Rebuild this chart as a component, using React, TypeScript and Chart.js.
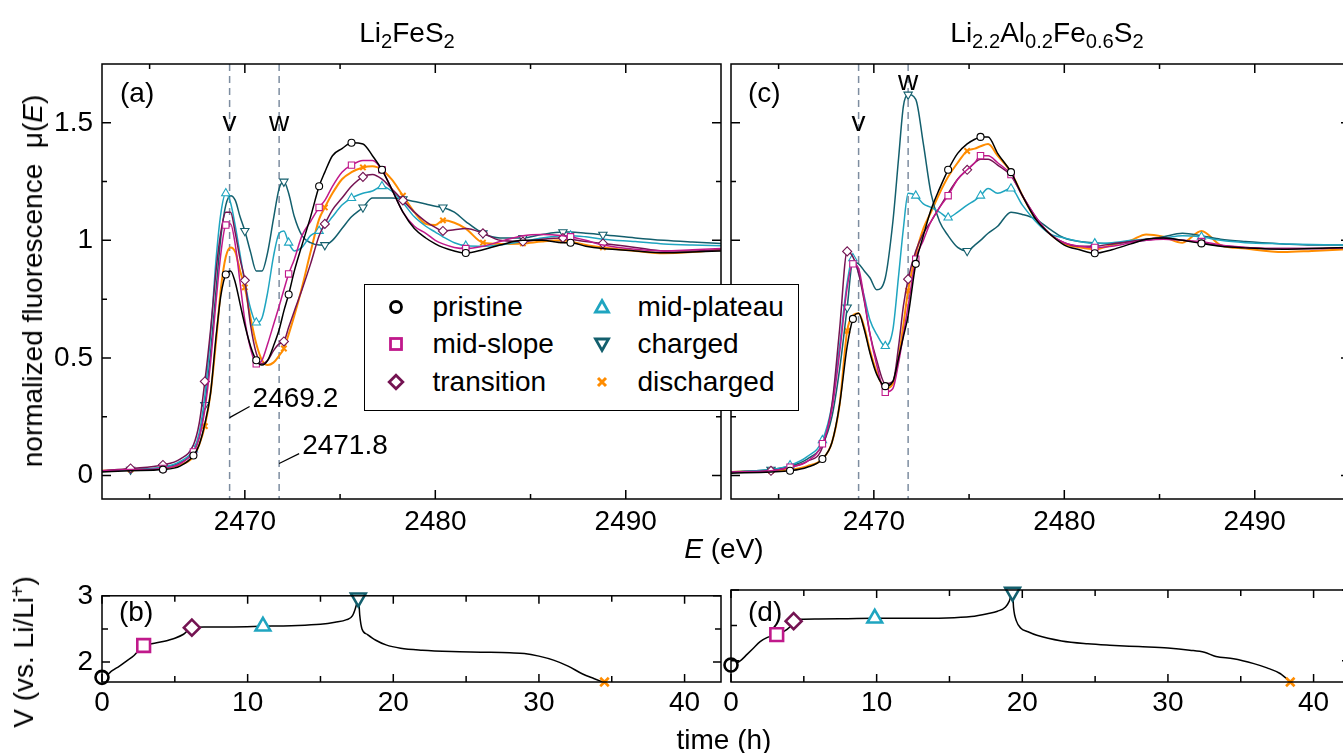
import React, { useEffect, useRef } from 'react';
import { Chart, registerables } from 'chart.js';
Chart.register(...registerables);

const FONT = '"Liberation Sans", Arial, Helvetica, sans-serif';
const FS = 28;

// ---------- Spectra, Li2FeS2 (panel a) ----------
const E_A = [2462.5, 2464.0, 2465.7, 2466.6, 2467.3, 2467.6, 2467.9, 2468.2, 2468.5, 2468.75,
  2469.0, 2469.25, 2469.5, 2469.75, 2470.0, 2470.3, 2470.6, 2470.9, 2471.2, 2471.5,
  2471.8, 2472.05, 2472.3, 2472.6, 2473.0, 2473.45, 2473.9, 2474.2, 2474.6, 2475.1,
  2475.6, 2476.2, 2476.7, 2477.2, 2477.7, 2478.3, 2478.9, 2479.5, 2480.0, 2480.4,
  2481.0, 2481.6, 2482.5, 2483.4, 2484.6, 2485.6, 2486.7, 2487.1, 2487.9, 2488.8,
  2490.5, 2492.0, 2493.5, 2495.0];
const PRISTINE_A = [0.015, 0.02, 0.025, 0.04, 0.085, 0.13, 0.22, 0.35, 0.6, 0.77,
  0.855, 0.87, 0.82, 0.73, 0.64, 0.55, 0.49, 0.47, 0.49, 0.55,
  0.62, 0.7, 0.77, 0.87, 0.98, 1.1, 1.23, 1.29, 1.36, 1.39,
  1.415, 1.41, 1.36, 1.3, 1.22, 1.12, 1.05, 1.01, 0.985, 0.97,
  0.955, 0.946, 0.96, 0.98, 1.0, 1.0, 0.99, 0.99, 0.975, 0.965,
  0.955, 0.947, 0.95, 0.955];
const MIDSLOPE_A = [0.02, 0.025, 0.03, 0.05, 0.1, 0.16, 0.28, 0.48, 0.75, 0.95,
  1.065, 1.07, 0.98, 0.82, 0.66, 0.54, 0.475, 0.49, 0.56, 0.64,
  0.72, 0.79, 0.857, 0.92, 1.02, 1.08, 1.14, 1.17, 1.23, 1.29,
  1.32, 1.34, 1.34, 1.3, 1.22, 1.12, 1.06, 1.03, 1.0, 0.985,
  0.97, 0.965, 0.975, 0.995, 1.02, 1.025, 1.02, 1.015, 1.0, 0.98,
  0.962, 0.955, 0.96, 0.965];
const TRANSITION_A = [0.02, 0.03, 0.045, 0.07, 0.13, 0.22, 0.4, 0.62, 0.88, 1.04,
  1.12, 1.12, 1.03, 0.92, 0.83, 0.64, 0.52, 0.475, 0.49, 0.53,
  0.56, 0.57, 0.63, 0.7, 0.79, 0.9, 1.02, 1.07, 1.13, 1.18,
  1.23, 1.27, 1.28, 1.26, 1.22, 1.17, 1.12, 1.08, 1.055, 1.04,
  1.045, 1.05, 1.03, 1.0, 0.995, 1.005, 1.01, 1.005, 0.995, 0.987,
  0.97, 0.955, 0.955, 0.96];
const MIDPLATEAU_A = [0.02, 0.025, 0.035, 0.06, 0.11, 0.18, 0.34, 0.6, 0.93, 1.12,
  1.2, 1.16, 1.06, 0.94, 0.82, 0.71, 0.65, 0.67, 0.78, 0.93,
  1.03, 1.04, 0.99, 0.955, 0.97, 1.02, 1.04, 1.06, 1.1, 1.15,
  1.18, 1.2, 1.21, 1.23, 1.21, 1.16, 1.1, 1.06, 1.035, 1.015,
  0.99, 0.977, 0.975, 0.98, 0.995, 1.01, 1.02, 1.02, 1.015, 1.005,
  0.995, 0.985, 0.98, 0.977];
const CHARGED_A = [0.02, 0.025, 0.035, 0.055, 0.1, 0.16, 0.3, 0.52, 0.8, 1.02,
  1.15, 1.19, 1.17, 1.1, 1.04, 0.95, 0.87, 0.87, 0.95, 1.09,
  1.22, 1.25, 1.2, 1.1, 1.02, 0.99, 0.98, 0.98, 1.0, 1.05,
  1.1, 1.14, 1.18, 1.18, 1.18, 1.175, 1.165, 1.155, 1.145, 1.14,
  1.12, 1.08, 1.03, 1.01, 1.01, 1.025, 1.035, 1.035, 1.03, 1.024,
  1.01, 1.0, 0.993, 0.987];
const DISCHARGED_A = [0.02, 0.025, 0.03, 0.045, 0.08, 0.13, 0.21, 0.35, 0.58, 0.8,
  0.93, 0.97, 0.95, 0.87, 0.8, 0.67, 0.56, 0.49, 0.47, 0.48,
  0.51, 0.54, 0.6, 0.68, 0.8, 0.95, 1.09, 1.14, 1.2, 1.26,
  1.29, 1.31, 1.315, 1.3, 1.26, 1.19, 1.12, 1.07, 1.065, 1.085,
  1.075, 1.05, 0.99, 0.985, 0.987, 0.995, 1.0, 0.995, 0.98, 0.97,
  0.955, 0.945, 0.95, 0.96];
// sample indices carrying a marker
const MARK_FIRST_A = [2, 4, 10, 16, 22, 26, 30, 33, 41, 47];
const MARK_SECOND_A = [1, 2, 6, 14, 21, 27, 31, 35, 39, 42, 44, 46, 49];

// ---------- Spectra, Li2.2Al0.2Fe0.6S2 (panel c) ----------
const E_C = [2462.5, 2464.6, 2465.6, 2466.5, 2467.3, 2467.8, 2468.2, 2468.6, 2468.9, 2469.2,
  2469.5, 2469.8, 2470.15, 2470.6, 2471.0, 2471.3, 2471.55, 2471.8, 2472.2, 2472.6,
  2473.0, 2473.45, 2473.9, 2474.4, 2474.9, 2475.3, 2475.6, 2476.0, 2476.5, 2477.2,
  2477.8, 2478.5, 2479.2, 2480.0, 2480.8, 2481.6, 2482.5, 2483.5, 2484.3, 2485.2,
  2486.2, 2487.2, 2488.2, 2489.5, 2491.5, 2493.0, 2495.0];
const PRISTINE_C = [0.01, 0.015, 0.02, 0.035, 0.07, 0.14, 0.3, 0.55, 0.666, 0.69,
  0.62, 0.52, 0.43, 0.38, 0.4, 0.5, 0.59, 0.68, 0.9, 1.02,
  1.13, 1.22, 1.3, 1.37, 1.41, 1.43, 1.44, 1.44, 1.37, 1.29,
  1.19, 1.09, 1.03, 0.98, 0.96, 0.945, 0.96, 0.985, 1.005, 1.01,
  1.0, 0.987, 0.975, 0.968, 0.962, 0.965, 0.97];
const MIDSLOPE_C = [0.015, 0.02, 0.035, 0.06, 0.135, 0.28, 0.52, 0.8, 0.9, 0.88,
  0.75, 0.6, 0.47, 0.354, 0.37, 0.48, 0.6, 0.72, 0.92, 1.0,
  1.08, 1.14, 1.19, 1.26, 1.3, 1.33, 1.36, 1.36, 1.33, 1.28,
  1.19, 1.1, 1.03, 0.99, 0.975, 0.97, 0.975, 0.99, 1.0, 1.005,
  1.0, 0.995, 0.98, 0.97, 0.965, 0.965, 0.97];
const TRANSITION_C = [0.015, 0.02, 0.035, 0.06, 0.12, 0.3, 0.62, 0.953, 0.93, 0.86,
  0.74, 0.6, 0.49, 0.39, 0.4, 0.55, 0.72, 0.835, 0.955, 1.03,
  1.08, 1.14, 1.2, 1.26, 1.3, 1.33, 1.345, 1.345, 1.32, 1.275,
  1.19, 1.1, 1.03, 0.99, 0.975, 0.975, 0.985, 0.995, 1.005, 1.01,
  1.0, 0.99, 0.978, 0.97, 0.965, 0.965, 0.97];
const MIDPLATEAU_C = [0.015, 0.025, 0.043, 0.08, 0.15, 0.3, 0.55, 0.82, 0.924, 0.86,
  0.76, 0.66, 0.6, 0.55, 0.62, 0.85, 1.05, 1.2, 1.19, 1.155,
  1.14, 1.12, 1.097, 1.12, 1.15, 1.17, 1.19, 1.22, 1.2, 1.22,
  1.15, 1.08, 1.03, 1.01, 0.995, 0.987, 0.99, 1.0, 1.005, 1.01,
  1.02, 1.015, 1.0, 0.99, 0.985, 0.982, 0.98];
const CHARGED_C = [0.015, 0.025, 0.04, 0.07, 0.13, 0.25, 0.45, 0.715, 0.91, 0.9,
  0.87, 0.84, 0.79, 0.84, 1.08, 1.35, 1.57, 1.62, 1.6, 1.41,
  1.2, 1.08, 1.02, 0.97, 0.955, 0.98, 1.0, 1.03, 1.06, 1.12,
  1.11, 1.09, 1.05, 1.01, 0.995, 0.99, 0.985, 0.995, 1.0, 1.015,
  1.03, 1.02, 1.005, 0.995, 0.985, 0.98, 0.98];
const DISCHARGED_C = [0.015, 0.02, 0.025, 0.04, 0.07, 0.14, 0.3, 0.615, 0.68, 0.69,
  0.63, 0.53, 0.44, 0.37, 0.39, 0.5, 0.64, 0.786, 0.94, 1.05,
  1.12, 1.2, 1.27, 1.33, 1.38, 1.39, 1.4, 1.41, 1.36, 1.29,
  1.19, 1.09, 1.03, 0.985, 0.97, 0.962, 0.98, 1.0, 1.025, 1.015,
  0.99, 1.04, 0.98, 0.965, 0.95, 0.955, 0.963];
const MARK_FIRST_C = [2, 4, 8, 13, 18, 22, 26, 29, 35, 41];
const MARK_SECOND_C = [1, 7, 17, 24];

// ---------- Voltage curves (panels b, d) ----------
const T_B = [0, 0.3, 0.7, 1.2, 1.7, 2.2, 2.86, 3.5, 4.2, 5.0, 5.6, 6.17, 7.0, 9, 11.05, 13, 15, 16, 16.8, 17.2,
  17.45, 17.6, 17.7, 17.85, 18.2, 18.8, 19.5, 20.5, 22, 24, 26, 28, 29, 30, 31, 32, 33, 33.8, 34.5];
const V_B = [1.77, 1.8, 1.87, 1.94, 2.02, 2.1, 2.25, 2.28, 2.31, 2.36, 2.42, 2.52, 2.53, 2.53, 2.54, 2.55, 2.57, 2.6, 2.64, 2.7,
  2.85, 3.0, 2.7, 2.5, 2.42, 2.33, 2.26, 2.21, 2.18, 2.16, 2.15, 2.14, 2.13, 2.09, 2.03, 1.94, 1.82, 1.75, 1.69];
const STATE_T_B = [0, 2.86, 6.17, 11.05, 17.6, 34.5];
const STATE_V_B = [1.77, 2.25, 2.52, 2.54, 2.97, 1.7];

const T_D = [0, 0.3, 0.7, 1.1, 1.5, 2.0, 2.5, 3.14, 3.6, 4.0, 4.3, 4.8, 6, 8, 9.87, 12, 14.8, 16.5, 17.6, 18.3,
  18.85, 19.1, 19.33, 19.4, 19.6, 19.9, 20.4, 21, 22.7, 24.5, 26, 28, 30, 31.5, 32.5, 33.3, 34.5, 35.9, 36.8, 37.7, 38.4];
const V_D = [1.94, 1.96, 2.01, 2.09, 2.17, 2.27, 2.33, 2.37, 2.41, 2.47, 2.56, 2.585, 2.59, 2.595, 2.6, 2.6, 2.605, 2.625, 2.665, 2.7,
  2.76, 2.84, 2.97, 2.75, 2.56, 2.46, 2.41, 2.36, 2.28, 2.24, 2.22, 2.2, 2.18, 2.15, 2.12, 2.06, 2.03, 1.96, 1.9, 1.82, 1.7];
const STATE_T_D = [0, 3.14, 4.3, 9.87, 19.33, 38.4];
const STATE_V_D = [1.94, 2.37, 2.56, 2.6, 2.97, 1.7];

// ---------- Axes ----------
const E_RANGE = [2462.5, 2495];
const MU_RANGE = [-0.1, 1.75];
const T_RANGE = [0, 42.5];
const V_RANGE = [1.7, 3];
const E_TICKS = [2470, 2480, 2490];
const E_MINOR = [2465, 2475, 2485];
const MU_TICKS = [0, 0.5, 1, 1.5];
const MU_MINOR = [0.25, 0.75, 1.25];
const T_TICKS = [0, 10, 20, 30, 40];
const T_MINOR = [5, 15, 25, 35];
const V_TICKS = [2, 3];
const V_MINOR = [2.5];

// ---------- Annotations ----------
const PEAK_E = [2469.2, 2471.8];
const PEAK_NAMES = ['v', 'w'];
const PEAK_LABEL_MU_A = [1.466, 1.466];
const PEAK_LABEL_MU_C = [1.466, 1.64];
const ANNOT_TEXT = ['2469.2', '2471.8'];
const ANNOT_FROM_E = [2469.2, 2471.8];
const ANNOT_FROM_MU = [0.246, 0.051];
const ANNOT_TO_E = [2470.25, 2472.85];
const ANNOT_TO_MU = [0.293, 0.093];

const SERIES_NAMES = ['pristine', 'mid-slope', 'transition', 'mid-plateau', 'charged', 'discharged'];
const COLORS = ['#000000', '#c0198b', '#741352', '#1fa5c0', '#135f6d', '#ff8c00'];
const POINT_STYLES = ['circle', 'rect', 'rectRot', 'triangle', 'triangle', 'crossRot'];
const ROTATIONS = [0, 0, 0, 0, 180, 0];
const SMALL_R = [3.5, 4.5, 4.5, 4.8, 4.8, 3.8];
const BIG_R = [6.5, 9, 8, 8.5, 8.5, 6];
const MARKER_GROUP = [0, 0, 1, 0, 1, 1];

const canvasFont = `${FS}px ${FONT}`;

function framePlugin(xMinor: number[], yMinor: number[], major: number, minor: number) {
  return {
    id: 'frame',
    afterDatasetsDraw(chart: any) {
      const { ctx, chartArea: a } = chart;
      const xs = chart.scales.x, ys = chart.scales.y;
      ctx.save();
      ctx.strokeStyle = '#000';
      ctx.lineWidth = 1.5;
      ctx.beginPath();
      const dx = (v: number, len: number) => {
        const p = xs.getPixelForValue(v);
        ctx.moveTo(p, a.bottom); ctx.lineTo(p, a.bottom - len);
        ctx.moveTo(p, a.top); ctx.lineTo(p, a.top + len);
      };
      const dy = (v: number, len: number) => {
        const p = ys.getPixelForValue(v);
        ctx.moveTo(a.left, p); ctx.lineTo(a.left + len, p);
        ctx.moveTo(a.right, p); ctx.lineTo(a.right - len, p);
      };
      xs.ticks.forEach((t: any) => dx(t.value, major));
      xMinor.forEach((v) => dx(v, minor));
      ys.ticks.forEach((t: any) => dy(t.value, major));
      yMinor.forEach((v) => dy(v, minor));
      ctx.stroke();
      ctx.strokeRect(a.left, a.top, a.right - a.left, a.bottom - a.top);
      ctx.restore();
    },
  };
}

function peakPlugin(labelMu: number[], withAnnot: boolean) {
  return {
    id: 'peaks',
    beforeDatasetsDraw(chart: any) {
      const { ctx, chartArea: a } = chart;
      const xs = chart.scales.x;
      ctx.save();
      ctx.strokeStyle = '#7d8da0';
      ctx.lineWidth = 1.5;
      ctx.setLineDash([7, 5]);
      PEAK_E.forEach((e) => {
        const p = xs.getPixelForValue(e);
        ctx.beginPath(); ctx.moveTo(p, a.top); ctx.lineTo(p, a.bottom); ctx.stroke();
      });
      ctx.restore();
    },
    afterDatasetsDraw(chart: any) {
      const { ctx } = chart;
      const xs = chart.scales.x, ys = chart.scales.y;
      ctx.save();
      ctx.fillStyle = '#000';
      ctx.font = canvasFont;
      ctx.textAlign = 'center';
      ctx.textBaseline = 'alphabetic';
      PEAK_E.forEach((e, i) => {
        ctx.fillText(PEAK_NAMES[i], xs.getPixelForValue(e), ys.getPixelForValue(labelMu[i]));
      });
      if (withAnnot) {
        ctx.strokeStyle = '#000';
        ctx.lineWidth = 1.2;
        ctx.textAlign = 'left';
        ANNOT_TEXT.forEach((t, i) => {
          const x0 = xs.getPixelForValue(ANNOT_FROM_E[i]);
          const y0 = ys.getPixelForValue(ANNOT_FROM_MU[i]);
          const x1 = xs.getPixelForValue(ANNOT_TO_E[i]);
          const y1 = ys.getPixelForValue(ANNOT_TO_MU[i]);
          ctx.beginPath(); ctx.moveTo(x0, y0); ctx.lineTo(x1, y1); ctx.stroke();
          ctx.fillText(t, x1 + 3, y1);
        });
      }
      ctx.restore();
    },
  };
}

type Box = { w: number; h: number; plotLeft: number; plotRight: number; plotTop: number; plotBottom: number };

function axisOptions(box: Box, xr: number[], yr: number[], xt: number[], yt: number[], showY: boolean, xPad: number) {
  const tickFont = { family: FONT, size: FS };
  return {
    x: {
      type: 'linear', min: xr[0], max: xr[1],
      grid: { display: false, drawTicks: false, tickLength: 0 },
      border: { display: false },
      ticks: { font: tickFont, color: '#000', padding: xPad, maxRotation: 0, autoSkip: false, callback: (v: any) => String(v) },
      afterBuildTicks: (s: any) => { s.ticks = xt.map((v) => ({ value: v })); },
      afterFit: (s: any) => { s.height = box.h - box.plotBottom; },
    },
    y: {
      type: 'linear', min: yr[0], max: yr[1],
      grid: { display: false, drawTicks: false, tickLength: 0 },
      border: { display: false },
      ticks: { display: showY, font: tickFont, color: '#000', padding: 9, autoSkip: false, callback: (v: any) => String(v) },
      afterBuildTicks: (s: any) => { s.ticks = yt.map((v) => ({ value: v })); },
      afterFit: (s: any) => { s.width = box.plotLeft; },
    },
  };
}

function spectraChart(canvas: HTMLCanvasElement, box: Box, E: number[], series: number[][], marks: number[][], labelMu: number[], withAnnot: boolean, showY: boolean) {
  const datasets = series.map((vals, k) => {
    const idx = marks[MARKER_GROUP[k]];
    return {
      label: SERIES_NAMES[k],
      data: vals.map((v, i) => ({ x: E[i], y: v })),
      borderColor: COLORS[k],
      borderWidth: k === 5 ? 2 : 1.5,
      cubicInterpolationMode: 'monotone',
      pointStyle: POINT_STYLES[k],
      rotation: ROTATIONS[k],
      pointRadius: vals.map((_, i) => (idx.includes(i) ? SMALL_R[k] : 0)),
      pointBorderWidth: k === 5 ? 2 : 1.1,
      pointBorderColor: COLORS[k],
      pointBackgroundColor: '#ffffff',
      fill: false,
    };
  });
  return new Chart(canvas, {
    type: 'line',
    data: { datasets } as any,
    options: {
      animation: false, responsive: false, maintainAspectRatio: false, events: [],
      layout: { padding: { top: box.plotTop, right: box.w - box.plotRight, left: 0, bottom: 0 } },
      plugins: { legend: { display: false }, tooltip: { enabled: false } },
      scales: axisOptions(box, E_RANGE, MU_RANGE, E_TICKS, MU_TICKS, showY, 6) as any,
    },
    plugins: [peakPlugin(labelMu, withAnnot), framePlugin(E_MINOR, MU_MINOR, 9, 5)],
  });
}

function voltageChart(canvas: HTMLCanvasElement, box: Box, T: number[], V: number[], ST: number[], SV: number[], showY: boolean) {
  const datasets = [
    {
      data: ST.map((t, i) => ({ x: t, y: SV[i] })),
      showLine: false,
      pointStyle: POINT_STYLES,
      rotation: ROTATIONS,
      pointRadius: BIG_R,
      pointBorderWidth: 2.6,
      pointBorderColor: COLORS,
      pointBackgroundColor: '#ffffff',
      clip: 14,
    },
    {
      data: T.map((t, i) => ({ x: t, y: V[i] })),
      borderColor: '#000',
      borderWidth: 1.5,
      cubicInterpolationMode: 'monotone',
      pointRadius: 0,
      fill: false,
    },
  ];
  return new Chart(canvas, {
    type: 'line',
    data: { datasets } as any,
    options: {
      animation: false, responsive: false, maintainAspectRatio: false, events: [],
      layout: { padding: { top: box.plotTop, right: box.w - box.plotRight, left: 0, bottom: 0 } },
      plugins: { legend: { display: false }, tooltip: { enabled: false } },
      scales: axisOptions(box, T_RANGE, V_RANGE, T_TICKS, V_TICKS, showY, 4) as any,
    },
    plugins: [framePlugin(T_MINOR, V_MINOR, 8, 6)],
  });
}

const BOX_A: Box = { w: 735, h: 560, plotLeft: 102, plotRight: 721, plotTop: 64, plotBottom: 499 };
const BOX_C: Box = { w: 665, h: 560, plotLeft: 31, plotRight: 650, plotTop: 64, plotBottom: 499 };
const BOX_B: Box = { w: 735, h: 183, plotLeft: 102, plotRight: 721, plotTop: 20, plotBottom: 112 };
const BOX_D: Box = { w: 665, h: 183, plotLeft: 31, plotRight: 650, plotTop: 20, plotBottom: 112 };

function LegendMarker({ k }: { k: number }) {
  const c = COLORS[k];
  const sw = 2.8;
  let shape: any = null;
  if (k === 0) shape = <circle r={5.5} fill="#fff" stroke={c} strokeWidth={sw} />;
  if (k === 1) shape = <rect x={-5.5} y={-5.5} width={11} height={11} fill="#fff" stroke={c} strokeWidth={sw} />;
  if (k === 2) shape = <polygon points="0,-6.8 6.8,0 0,6.8 -6.8,0" fill="#fff" stroke={c} strokeWidth={sw} />;
  if (k === 3) shape = <polygon points="0,-6.5 6.5,5 -6.5,5" fill="#fff" stroke={c} strokeWidth={sw} />;
  if (k === 4) shape = <polygon points="0,6.5 6.5,-5 -6.5,-5" fill="#fff" stroke={c} strokeWidth={sw} />;
  if (k === 5) shape = <path d="M-4,-4L4,4M-4,4L4,-4" stroke={c} strokeWidth={3} />;
  return (
    <svg width={22} height={22} viewBox="-11 -11 22 22" style={{ position: 'absolute', left: -11, top: -11 }}>
      {shape}
    </svg>
  );
}

function Legend() {
  const rows = [0, 1, 2];
  const cols = [[0, 1, 2], [3, 4, 5]];
  const colMarkerX = [32, 238];
  const colTextX = [69, 274];
  return (
    <div style={{ position: 'absolute', left: 364, top: 284, width: 435, height: 127, boxSizing: 'border-box', border: '1.5px solid #000', background: '#fff' }}>
      {cols.map((col, ci) => col.map((k, ri) => (
        <React.Fragment key={k}>
          <div style={{ position: 'absolute', left: colMarkerX[ci] - 1.5, top: 23 + 37.5 * rows[ri] - 1.5, width: 0, height: 0 }}>
            <LegendMarker k={k} />
          </div>
          <div style={{ position: 'absolute', left: colTextX[ci] - 1.5, top: 23 + 37.5 * rows[ri] - 1.5, transform: 'translateY(-50%)', fontSize: FS, lineHeight: 1, whiteSpace: 'nowrap' }}>
            {SERIES_NAMES[k]}
          </div>
        </React.Fragment>
      )))}
    </div>
  );
}

const subStyle: React.CSSProperties = { fontSize: '0.72em', verticalAlign: '-0.32em', lineHeight: 0 };

function Txt({ x, y, children, align }: { x: number; y: number; children: any; align?: 'left' | 'center' }) {
  const tx = align === 'left' ? '0' : '-50%';
  return (
    <div style={{ position: 'absolute', left: x, top: y, transform: `translate(${tx},-50%)`, fontSize: FS, lineHeight: 1, whiteSpace: 'nowrap' }}>
      {children}
    </div>
  );
}

function RotTxt({ x, y, children }: { x: number; y: number; children: any }) {
  return (
    <div style={{ position: 'absolute', left: x, top: y, width: 0, height: 0 }}>
      <div style={{ position: 'absolute', left: 0, top: 0, transform: 'translate(-50%,-50%) rotate(-90deg)', fontSize: FS, lineHeight: 1, whiteSpace: 'nowrap' }}>
        {children}
      </div>
    </div>
  );
}

export default function App() {
  const refA = useRef<HTMLCanvasElement>(null);
  const refB = useRef<HTMLCanvasElement>(null);
  const refC = useRef<HTMLCanvasElement>(null);
  const refD = useRef<HTMLCanvasElement>(null);

  useEffect(() => {
    const charts = [
      spectraChart(refA.current!, BOX_A, E_A,
        [PRISTINE_A, MIDSLOPE_A, TRANSITION_A, MIDPLATEAU_A, CHARGED_A, DISCHARGED_A],
        [MARK_FIRST_A, MARK_SECOND_A], PEAK_LABEL_MU_A, true, true),
      spectraChart(refC.current!, BOX_C, E_C,
        [PRISTINE_C, MIDSLOPE_C, TRANSITION_C, MIDPLATEAU_C, CHARGED_C, DISCHARGED_C],
        [MARK_FIRST_C, MARK_SECOND_C], PEAK_LABEL_MU_C, false, false),
      voltageChart(refB.current!, BOX_B, T_B, V_B, STATE_T_B, STATE_V_B, true),
      voltageChart(refD.current!, BOX_D, T_D, V_D, STATE_T_D, STATE_V_D, false),
    ];
    return () => charts.forEach((c) => c.destroy());
  }, []);

  const cv = (left: number, top: number, b: Box): React.CSSProperties => ({ position: 'absolute', left, top, width: b.w, height: b.h });

  return (
    <div style={{ position: 'fixed', left: 0, top: 0, width: 1343, height: 753, overflow: 'hidden', background: '#fff', fontFamily: FONT, color: '#000' }}>
      <canvas ref={refA} width={BOX_A.w} height={BOX_A.h} style={cv(0, 0, BOX_A)} />
      <canvas ref={refC} width={BOX_C.w} height={BOX_C.h} style={cv(700, 0, BOX_C)} />
      <canvas ref={refB} width={BOX_B.w} height={BOX_B.h} style={cv(0, 570, BOX_B)} />
      <canvas ref={refD} width={BOX_D.w} height={BOX_D.h} style={cv(700, 570, BOX_D)} />

      <Txt x={407} y={33}>Li<sub style={subStyle}>2</sub>FeS<sub style={subStyle}>2</sub></Txt>
      <Txt x={1047} y={33}>Li<sub style={subStyle}>2.2</sub>Al<sub style={subStyle}>0.2</sub>Fe<sub style={subStyle}>0.6</sub>S<sub style={subStyle}>2</sub></Txt>

      <Txt x={120} y={93} align="left">(a)</Txt>
      <Txt x={748} y={93} align="left">(c)</Txt>
      <Txt x={119} y={612} align="left">(b)</Txt>
      <Txt x={748} y={612} align="left">(d)</Txt>

      <Txt x={724} y={549}><i>E</i> (eV)</Txt>
      <Txt x={724} y={740}>time (h)</Txt>

      <RotTxt x={33} y={281}>normalized fluorescence&nbsp; μ(<i>E</i>)</RotTxt>
      <RotTxt x={24} y={652}>V (vs. Li/Li<sup style={{ fontSize: '0.7em', verticalAlign: '0.45em', lineHeight: 0 }}>+</sup>)</RotTxt>

      <Legend />
    </div>
  );
}
